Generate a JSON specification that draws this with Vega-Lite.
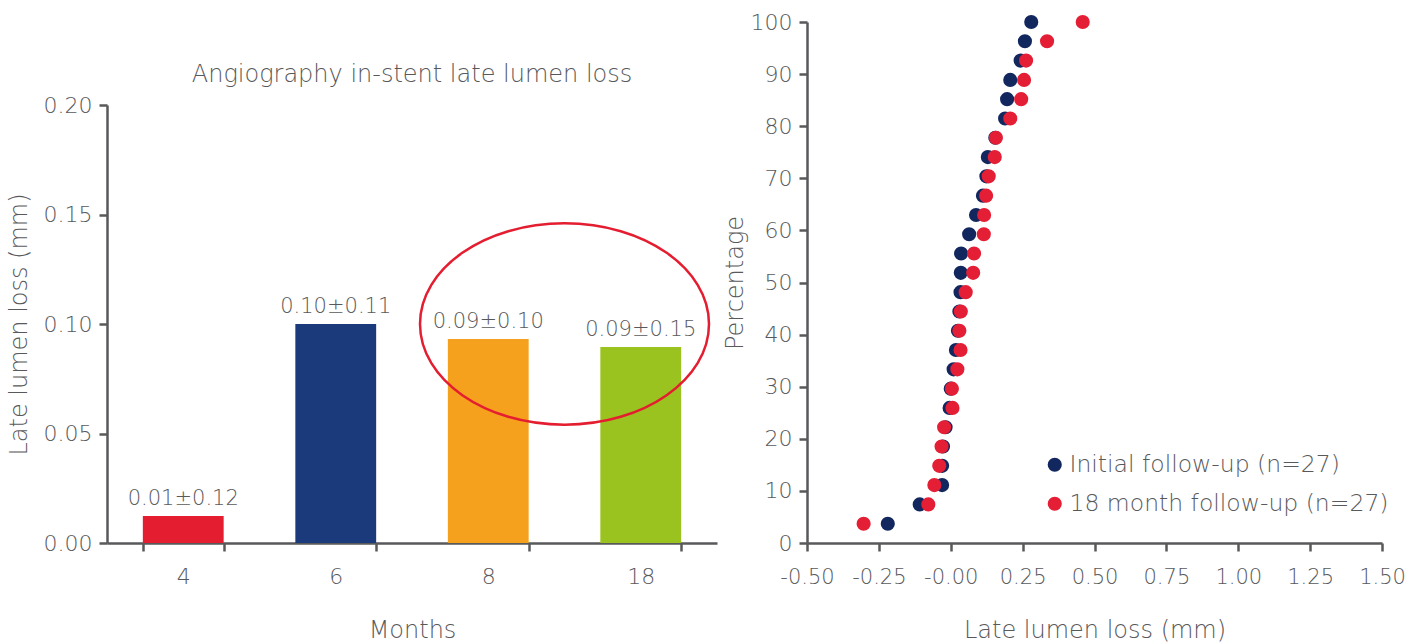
{
  "$schema": "https://vega.github.io/schema/vega-lite/v6.json",
  "padding": {"left": 7, "top": 11, "right": 0, "bottom": 5},
  "background": "white",
  "config": {
    "font": "DejaVu Sans",
    "view": {"stroke": null},
    "axis": {
      "domainColor": "#58595b", "domainWidth": 2.5,
      "tickColor": "#58595b", "tickWidth": 2.5, "tickSize": 8,
      "labelFontSize": 22, "labelColor": "#58595b", "labelFontWeight": 300, "labelOverlap": false, "labelFlush": false,
      "titleFontSize": 24, "titleFontWeight": 300, "titleColor": "#58595b",
      "grid": false
    },
    "legend": {"labelFontSize": 23.5, "labelColor": "#58595b", "labelFontWeight": 300, "labelLimit": 0}
  },
  "hconcat": [
    {
      "vconcat": [
        {
          "width": 610, "height": 70,
          "data": {"values": [{"t": "Angiography in-stent late lumen loss"}]},
          "mark": {"type": "text", "fontSize": 24, "fontWeight": 300, "color": "#58595b", "dy": 18},
          "encoding": {"text": {"field": "t", "type": "nominal"}}
        },
        {
          "width": 610, "height": 438,
          "layer": [
            {
              "data": {"name": "bars", "values": [
                {"month": "4", "value": 0.0123, "label": "0.01±0.12"},
                {"month": "6", "value": 0.1, "label": "0.10±0.11"},
                {"month": "8", "value": 0.0932, "label": "0.09±0.10"},
                {"month": "18", "value": 0.0895, "label": "0.09±0.15"}
              ]},
              "layer": [
                {
                  "mark": {"type": "bar"},
                  "encoding": {
                    "x": {"field": "month", "type": "nominal", "sort": ["4", "6", "8", "18"],
                      "scale": {"paddingInner": 0.47, "paddingOuter": 0.235},
                      "axis": {"tickBand": "extent", "labelAngle": 0, "title": "Months", "labelPadding": 15, "titlePadding": 31}},
                    "y": {"field": "value", "type": "quantitative", "scale": {"domain": [0, 0.2]},
                      "axis": {"values": [0, 0.05, 0.1, 0.15, 0.2], "format": ".2f", "title": "Late lumen loss (mm)", "labelPadding": 7, "titlePadding": 12}},
                    "color": {"field": "month", "type": "nominal",
                      "scale": {"domain": ["4", "6", "8", "18"], "range": ["#e41e30", "#1b3a7b", "#f6a11d", "#9bc31f"]},
                      "legend": null}
                  }
                },
                {
                  "mark": {"type": "text", "fontSize": 21, "fontWeight": 300, "color": "#58595b", "dy": -17, "baseline": "middle"},
                  "encoding": {
                    "x": {"field": "month", "type": "nominal", "sort": ["4", "6", "8", "18"]},
                    "y": {"field": "value", "type": "quantitative"},
                    "text": {"field": "label", "type": "nominal"}
                  }
                }
              ]
            },
            {
              "data": {"values": [{"pos": 3, "value": 0.1}]},
              "mark": {"type": "point", "filled": false, "stroke": "#e41e30", "strokeWidth": 2.5, "opacity": 1,
                "shape": "M-1,0A1,0.697,0,1,0,1,0A1,0.697,0,1,0,-1,0Z", "size": 83521},
              "encoding": {
                "x": {"field": "pos", "type": "quantitative", "scale": {"domain": [0, 4]}, "axis": null},
                "y": {"field": "value", "type": "quantitative"}
              }
            }
          ],
          "resolve": {"scale": {"x": "independent"}, "axis": {"x": "independent"}}
        }
      ],
      "spacing": 2
    },
    {
      "width": 575, "height": 521,
      "data": {"values": [
        {"s": "Initial follow-up (n=27)", "p": 3.70, "x": -0.219},
        {"s": "Initial follow-up (n=27)", "p": 7.41, "x": -0.108},
        {"s": "Initial follow-up (n=27)", "p": 11.11, "x": -0.030},
        {"s": "Initial follow-up (n=27)", "p": 14.81, "x": -0.030},
        {"s": "Initial follow-up (n=27)", "p": 18.52, "x": -0.027},
        {"s": "Initial follow-up (n=27)", "p": 22.22, "x": -0.018},
        {"s": "Initial follow-up (n=27)", "p": 25.93, "x": -0.004},
        {"s": "Initial follow-up (n=27)", "p": 29.63, "x": 0.000},
        {"s": "Initial follow-up (n=27)", "p": 33.33, "x": 0.010},
        {"s": "Initial follow-up (n=27)", "p": 37.04, "x": 0.018},
        {"s": "Initial follow-up (n=27)", "p": 40.74, "x": 0.025},
        {"s": "Initial follow-up (n=27)", "p": 44.44, "x": 0.030},
        {"s": "Initial follow-up (n=27)", "p": 48.15, "x": 0.034},
        {"s": "Initial follow-up (n=27)", "p": 51.85, "x": 0.035},
        {"s": "Initial follow-up (n=27)", "p": 55.56, "x": 0.036},
        {"s": "Initial follow-up (n=27)", "p": 59.26, "x": 0.064},
        {"s": "Initial follow-up (n=27)", "p": 62.96, "x": 0.088},
        {"s": "Initial follow-up (n=27)", "p": 66.67, "x": 0.112},
        {"s": "Initial follow-up (n=27)", "p": 70.37, "x": 0.124},
        {"s": "Initial follow-up (n=27)", "p": 74.07, "x": 0.129},
        {"s": "Initial follow-up (n=27)", "p": 77.78, "x": 0.155},
        {"s": "Initial follow-up (n=27)", "p": 81.48, "x": 0.189},
        {"s": "Initial follow-up (n=27)", "p": 85.19, "x": 0.196},
        {"s": "Initial follow-up (n=27)", "p": 88.89, "x": 0.207},
        {"s": "Initial follow-up (n=27)", "p": 92.59, "x": 0.243},
        {"s": "Initial follow-up (n=27)", "p": 96.30, "x": 0.258},
        {"s": "Initial follow-up (n=27)", "p": 100, "x": 0.280},
        {"s": "18 month follow-up (n=27)", "p": 3.70, "x": -0.303},
        {"s": "18 month follow-up (n=27)", "p": 7.41, "x": -0.078},
        {"s": "18 month follow-up (n=27)", "p": 11.11, "x": -0.057},
        {"s": "18 month follow-up (n=27)", "p": 14.81, "x": -0.040},
        {"s": "18 month follow-up (n=27)", "p": 18.52, "x": -0.032},
        {"s": "18 month follow-up (n=27)", "p": 22.22, "x": -0.023},
        {"s": "18 month follow-up (n=27)", "p": 25.93, "x": 0.006},
        {"s": "18 month follow-up (n=27)", "p": 29.63, "x": 0.004},
        {"s": "18 month follow-up (n=27)", "p": 33.33, "x": 0.023},
        {"s": "18 month follow-up (n=27)", "p": 37.04, "x": 0.034},
        {"s": "18 month follow-up (n=27)", "p": 40.74, "x": 0.030},
        {"s": "18 month follow-up (n=27)", "p": 44.44, "x": 0.035},
        {"s": "18 month follow-up (n=27)", "p": 48.15, "x": 0.052},
        {"s": "18 month follow-up (n=27)", "p": 51.85, "x": 0.078},
        {"s": "18 month follow-up (n=27)", "p": 55.56, "x": 0.081},
        {"s": "18 month follow-up (n=27)", "p": 59.26, "x": 0.115},
        {"s": "18 month follow-up (n=27)", "p": 62.96, "x": 0.116},
        {"s": "18 month follow-up (n=27)", "p": 66.67, "x": 0.123},
        {"s": "18 month follow-up (n=27)", "p": 70.37, "x": 0.132},
        {"s": "18 month follow-up (n=27)", "p": 74.07, "x": 0.153},
        {"s": "18 month follow-up (n=27)", "p": 77.78, "x": 0.157},
        {"s": "18 month follow-up (n=27)", "p": 81.48, "x": 0.207},
        {"s": "18 month follow-up (n=27)", "p": 85.19, "x": 0.245},
        {"s": "18 month follow-up (n=27)", "p": 88.89, "x": 0.255},
        {"s": "18 month follow-up (n=27)", "p": 92.59, "x": 0.262},
        {"s": "18 month follow-up (n=27)", "p": 96.30, "x": 0.335},
        {"s": "18 month follow-up (n=27)", "p": 100, "x": 0.459}
      ]},
      "mark": {"type": "point", "filled": true, "size": 200, "opacity": 1, "shape": "circle"},
      "encoding": {
        "x": {"field": "x", "type": "quantitative", "scale": {"domain": [-0.5, 1.5], "nice": false},
          "axis": {"values": [-0.5, -0.25, 0, 0.25, 0.5, 0.75, 1, 1.25, 1.5],
            "labelExpr": "datum.value == 0 ? '-0.00' : replace(format(datum.value, '.2f'), '\u2212', '-')",
            "labelFontSize": 21,
            "title": "Late lumen loss (mm)", "labelPadding": 15, "titlePadding": 31}},
        "y": {"field": "p", "type": "quantitative", "scale": {"domain": [0, 100], "nice": false},
          "axis": {"values": [0, 10, 20, 30, 40, 50, 60, 70, 80, 90, 100], "title": "Percentage", "labelPadding": 7, "titlePadding": 3}},
        "color": {"field": "s", "type": "nominal",
          "scale": {"domain": ["Initial follow-up (n=27)", "18 month follow-up (n=27)"], "range": ["#13275f", "#e41e35"]},
          "legend": {"title": null, "orient": "none", "legendX": 236, "legendY": 431, "padding": 0,
            "symbolSize": 200, "symbolType": "circle", "rowPadding": 14, "labelOffset": 3}}
      }
    }
  ],
  "resolve": {"scale": {"color": "independent"}, "legend": {"color": "independent"}},
  "spacing": 6
}
